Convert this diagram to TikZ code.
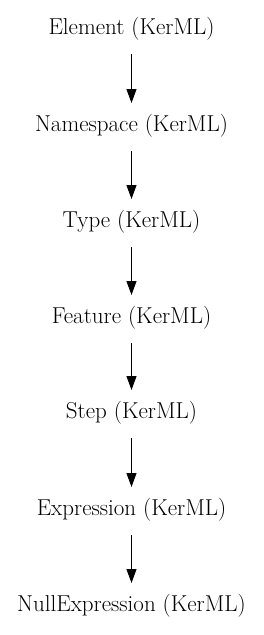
\documentclass[tikz,border=0pt]{standalone}
\usetikzlibrary{arrows.meta}
\begin{document}
\begin{tikzpicture}[x=1pt,y=-1pt,
  cls/.style={inner sep=0pt, font=\fontsize{23}{27}\selectfont},
  gen/.style={-{Triangle[length=14pt,width=10pt]}, line width=1pt}]
\useasboundingbox (0,0) rectangle (263,635);
\node[cls] (a) at (131.5,29) {Element (KerML)};
\node[cls] (b) at (131.5,126) {Namespace (KerML)};
\node[cls] (c) at (131.5,222) {Type (KerML)};
\node[cls] (d) at (131.5,318) {Feature (KerML)};
\node[cls] (e) at (131.5,413) {Step (KerML)};
\node[cls] (f) at (131.5,510) {Expression (KerML)};
\node[cls] (g) at (131.5,606) {NullExpression (KerML)};
\foreach \u/\v in {a/b,b/c,c/d,d/e,e/f,f/g}
  \draw[gen] ([yshift=-25pt]\u.center) -- ([yshift=23pt]\v.center);
\end{tikzpicture}
\end{document}
